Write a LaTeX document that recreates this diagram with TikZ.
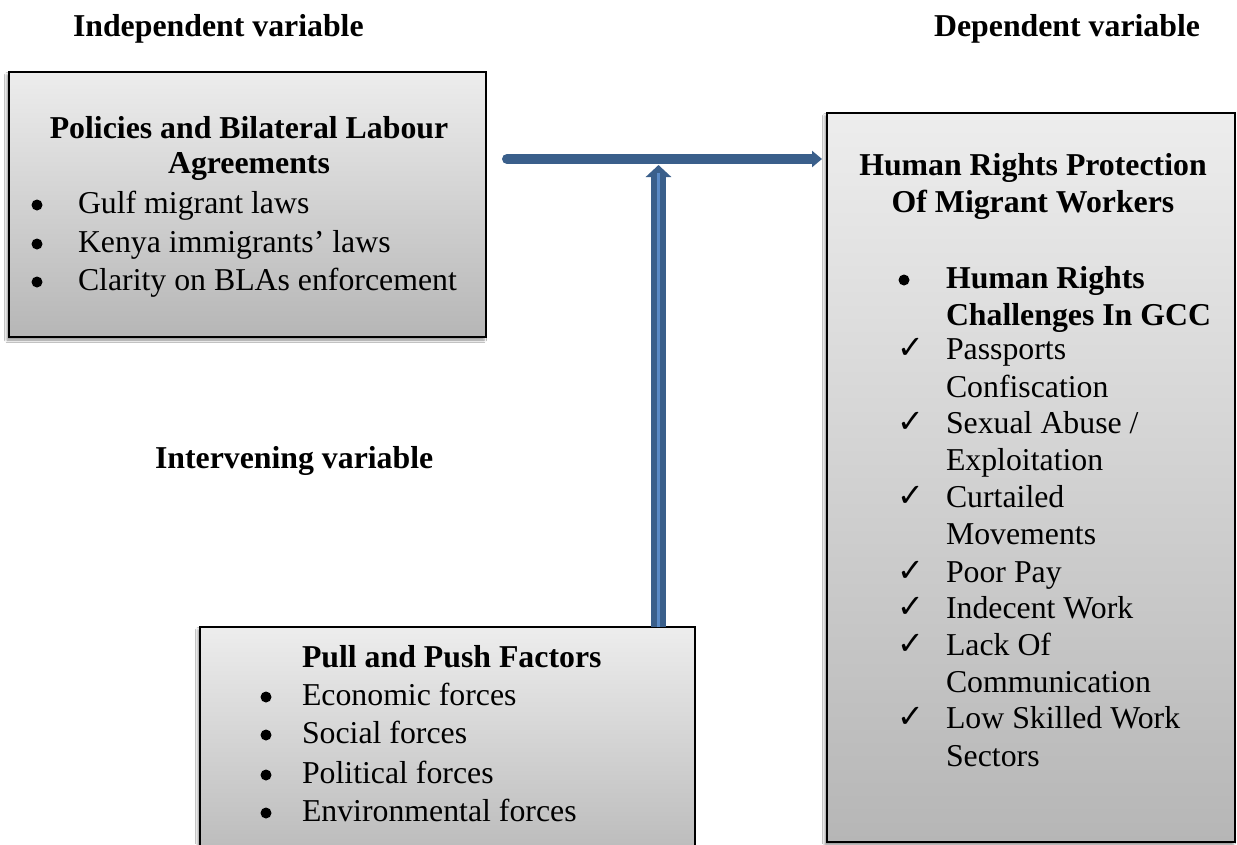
\documentclass[tikz,border=0pt]{standalone}
\usepackage{fontspec}
\setmainfont{Liberation Serif}
\newfontfamily\checkfont{DejaVu Sans}
\usetikzlibrary{arrows.meta,shadows.blur}

\definecolor{arrowblue}{HTML}{3A5F8B}
\definecolor{arrowlight}{HTML}{5A8AC6}
\definecolor{boxtop}{HTML}{EDEDED}
\definecolor{boxbottom}{HTML}{B6B6B6}

\begin{document}
\begin{tikzpicture}[x=1pt,y=-1pt,
  every node/.style={inner sep=0pt, outer sep=0pt, font=\fontsize{31.8}{38}\selectfont},
  framebox/.style={rectangle, draw=black, line width=1.6pt,
    top color=boxtop, bottom color=boxbottom,
    blur shadow={shadow xshift=-2pt, shadow yshift=-3pt,
      shadow blur radius=2.5pt, shadow opacity=45}},
  heading/.style={font=\fontsize{31.8}{38}\selectfont\bfseries},
  itemtext/.style={anchor=base west},
  dot/.style={circle, fill=black, minimum size=11pt},
  tick/.style={anchor=base west, font=\fontsize{32}{38}\selectfont\checkfont},
  harrow/.style={draw=arrowblue, line width=10pt, line cap=round,
    -{Triangle[length=10pt,width=16pt]}},
  varrow/.style={draw=arrowblue, line width=15pt,
    -{Triangle[length=12pt,width=25pt]}},
]
\useasboundingbox (0,0) rectangle (1237,844);
\clip (0,0) rectangle (1237,844);
\fill[white] (0,0) rectangle (1237,844);

% column headings
\node[heading, anchor=base west] (indep) at (73,36) {Independent variable};
\node[heading, anchor=base east] (dep) at (1200,36) {Dependent variable};
\node[heading, anchor=base west] (interv) at (155,468) {Intervening variable};

% the three boxes
\node[framebox, minimum width=477pt, minimum height=265pt] (policy) at (247.5,204.5) {};
\node[framebox, minimum width=408pt, minimum height=729pt] (rights) at (1031,477.5) {};
\node[framebox, minimum width=495pt, minimum height=250pt] (push) at (447.5,752) {};

% policies box
\node[heading, anchor=base] (p-t1) at (249,138) {Policies and Bilateral Labour};
\node[heading, anchor=base] (p-t2) at (249,173) {Agreements};
\foreach \y/\t [count=\i] in {213/{Gulf migrant laws},
                              252/{Kenya immigrants’ laws},
                              290/{Clarity on BLAs enforcement}} {
  \node[dot] (p-dot\i) at (37,\y-8) {};
  \node[itemtext] (p-item\i) at (78,\y) {\t};
}

% human rights box
\node[heading, anchor=base] (r-t1) at (1033,175) {Human Rights Protection};
\node[heading, anchor=base] (r-t2) at (1033,212) {Of Migrant Workers};
\node[dot] (r-dot) at (904,280) {};
\node[heading, anchor=base west] (r-h1) at (946,288) {Human Rights};
\node[heading, anchor=base west] (r-h2) at (946,325) {Challenges In GCC};
\foreach \y/\t [count=\i] in {359/{Passports}, 397/{Confiscation},
                              433/{Sexual Abuse /}, 470/{Exploitation},
                              507/{Curtailed}, 544/{Movements},
                              582/{Poor Pay}, 618/{Indecent Work},
                              655/{Lack Of}, 692/{Communication},
                              728/{Low Skilled Work}, 766/{Sectors}} {
  \node[itemtext] (r-item\i) at (946,\y) {\t};
}
\foreach \y [count=\i] in {359,433,507,582,618,655,728} {
  \node[tick] (r-tick\i) at (897,\y-1) {✓};
}

% pull and push box
\node[heading, anchor=base west] (f-t) at (302,667) {Pull and Push Factors};
\foreach \y/\t [count=\i] in {705/{Economic forces}, 743/{Social forces},
                              783/{Political forces}, 821/{Environmental forces}} {
  \node[dot] (f-dot\i) at (266,\y-8) {};
  \node[itemtext] (f-item\i) at (302,\y) {\t};
}

% connectors
\coordinate (hstart) at (507,159);
\coordinate (vtip) at (658.5,165);
\draw[harrow, shorten >=5pt] (hstart) -- (hstart -| rights.west);
\draw[varrow] (push.north -| vtip) -- (vtip);
\draw[arrowlight, line width=3pt] (push.north -| vtip) -- ([yshift=-8pt]vtip);
\end{tikzpicture}
\end{document}
